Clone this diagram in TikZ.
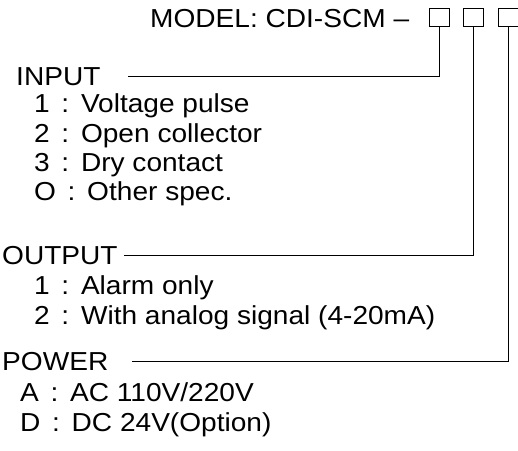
\documentclass[tikz,border=0pt]{standalone}
\usepackage{fontspec}
\setmainfont[FakeStretch=1.08]{Liberation Sans}
\newcommand{\kolon}{\hspace{0.45em}:\hspace{0.45em}}
\begin{document}
\begin{tikzpicture}[x=1pt,y=-1pt,
  txt/.style={anchor=base west,inner sep=0pt,font=\fontsize{26}{30}\selectfont},
  cell/.style={draw,line width=0.9pt,minimum width=20pt,minimum height=18pt,inner sep=0pt}]
\useasboundingbox (0,0) rectangle (518,450);

% Code du modele
\node[txt] (model) at (150,27) {MODEL: CDI-SCM –};
\node[cell] (b1) at (439,17) {};
\node[cell] (b2) at (473.5,17) {};
\node[cell] (b3) at (508.5,17) {};

% Entree
\node[txt] (in) at (16,85) {INPUT};
\node[txt] (in1) at (34,112) {1\kolon Voltage pulse};
\node[txt] (in2) at (34,142) {2\kolon Open collector};
\node[txt] (in3) at (34,171) {3\kolon Dry contact};
\node[txt] (in4) at (34,200) {O\kolon Other spec.};

% Sortie
\node[txt] (out) at (2,264) {OUTPUT};
\node[txt] (out1) at (34,294) {1\kolon Alarm only};
\node[txt] (out2) at (34,324) {2\kolon With analog signal (4-20mA)};

% Alimentation
\node[txt] (pow) at (2,370) {POWER};
\node[txt] (powa) at (20,401) {A\kolon AC 110V/220V};
\node[txt] (powd) at (20,431) {D\kolon DC 24V(Option)};

% Lignes de rappel
\coordinate (inl) at (128,76);
\coordinate (outl) at (124,255);
\coordinate (powl) at (132,361);
\draw[line width=0.9pt] (inl) -| (b1.south);
\draw[line width=0.9pt] (outl) -| (b2.south);
\draw[line width=0.9pt] (powl) -| (b3.south);

\end{tikzpicture}
\end{document}
